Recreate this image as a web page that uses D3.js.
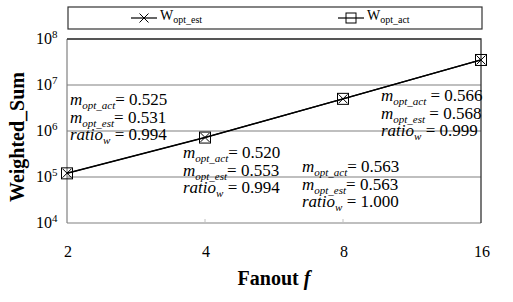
<!DOCTYPE html>
<html>
<head>
<meta charset="utf-8">
<script src="https://d3js.org/d3.v7.min.js"></script>
<style>
  body { margin: 0; background: #fff; }
  svg text { font-family: 'Liberation Serif', 'DejaVu Serif', 'Times New Roman', Times, serif; fill: #000; }
</style>
</head>
<body>
<div id="chart"></div>
<script>
// values
var fanout = [2, 4, 8, 16];
var wOptEst = [1.21e5, 7.25e5, 5.0e6, 3.5e7];
var wOptAct = [1.2e5, 7.2e5, 5.0e6, 3.5e7];
var yTicks = [1e4, 1e5, 1e6, 1e7, 1e8];

// annotation numbers
var mOptAct = ['0.525', '0.520', '0.563', '0.566'];
var mOptEst = ['0.531', '0.553', '0.563', '0.568'];
var ratioW = ['0.994', '0.994', '1.000', '0.999'];

var width = 513, height = 302;
var margin = {top: 39, right: 32, bottom: 79, left: 67};
var serif = "'Liberation Serif', 'DejaVu Serif', serif";

var svg = d3.select('#chart')
    .append('svg')
    .attr('width', width)
    .attr('height', height)
    .attr('font-family', serif);

svg.append('rect').attr('width', width).attr('height', height).attr('fill', '#fff');

var x = d3.scaleLog().base(2).domain([2, 16]).range([margin.left, width - margin.right]);
var y = d3.scaleLog().domain([1e4, 1e8]).range([height - margin.bottom, margin.top]);

// gridlines
svg.append('g')
    .selectAll('line')
    .data(yTicks)
    .enter().append('line')
    .attr('x1', x(2)).attr('x2', x(16))
    .attr('y1', function (d) { return y(d); })
    .attr('y2', function (d) { return y(d); })
    .attr('stroke', '#808080')
    .attr('stroke-width', 1.2);

// left axis
svg.append('line')
    .attr('x1', x(2)).attr('x2', x(2))
    .attr('y1', y(1e4)).attr('y2', y(1e8))
    .attr('stroke', '#808080').attr('stroke-width', 1.2);

// small inner ticks on bottom
svg.append('g')
    .selectAll('line')
    .data(fanout.slice(1, 3))
    .enter().append('line')
    .attr('x1', function (d) { return x(d); })
    .attr('x2', function (d) { return x(d); })
    .attr('y1', y(1e4)).attr('y2', y(1e4) - 4)
    .attr('stroke', '#c0c0c0');

// top / right frame
svg.append('path')
    .attr('d', 'M' + x(2) + ',' + y(1e8) + 'H' + x(16) + 'V' + y(1e4))
    .attr('fill', 'none')
    .attr('stroke', '#333')
    .attr('stroke-width', 1.3);

// y tick labels
var yl = svg.append('g')
    .selectAll('text')
    .data(yTicks)
    .enter().append('text')
    .attr('x', x(2) - 31)
    .attr('y', function (d) { return y(d) + 5; })
    .attr('font-size', 16);
yl.append('tspan').text('10');
yl.append('tspan')
    .attr('dy', -6)
    .attr('font-size', 11)
    .text(function (d) { return Math.round(Math.log10(d)); });

// x tick labels
svg.append('g')
    .selectAll('text')
    .data(fanout)
    .enter().append('text')
    .attr('x', function (d) { return x(d) + 1; })
    .attr('y', 257)
    .attr('text-anchor', 'middle')
    .attr('font-size', 16)
    .text(function (d) { return d; });

// axis titles
svg.append('text')
    .attr('transform', 'translate(24,' + 137 + ') rotate(-90)')
    .attr('text-anchor', 'middle')
    .attr('font-size', 20)
    .attr('font-weight', 'bold')
    .text('Weighted_Sum');

var xt = svg.append('text')
    .attr('x', 274)
    .attr('y', 285)
    .attr('text-anchor', 'middle')
    .attr('font-size', 20)
    .attr('font-weight', 'bold');
xt.append('tspan').text('Fanout ');
xt.append('tspan').attr('font-style', 'italic').text('f');

// series line (both series overlap)
var line = d3.line()
    .x(function (d) { return x(d[0]); })
    .y(function (d) { return y(d[1]); });

function markerX(g, cx, cy, s) {
    g.append('path')
        .attr('d', 'M' + (cx - s) + ',' + (cy - s) + 'L' + (cx + s) + ',' + (cy + s) +
            'M' + (cx - s) + ',' + (cy + s) + 'L' + (cx + s) + ',' + (cy - s))
        .attr('stroke', '#000').attr('stroke-width', 1).attr('fill', 'none');
}
function markerSq(g, cx, cy, s) {
    g.append('rect')
        .attr('x', cx - s).attr('y', cy - s)
        .attr('width', 2 * s).attr('height', 2 * s)
        .attr('stroke', '#000').attr('stroke-width', 1).attr('fill', 'none');
}

var estPts = fanout.map(function (f, i) { return [f, wOptEst[i]]; });
var actPts = fanout.map(function (f, i) { return [f, wOptAct[i]]; });

svg.append('path').datum(estPts).attr('d', line)
    .attr('fill', 'none').attr('stroke', '#000').attr('stroke-width', 1.3);
svg.append('path').datum(actPts).attr('d', line)
    .attr('fill', 'none').attr('stroke', '#000').attr('stroke-width', 1.3);

var mk = svg.append('g');
estPts.forEach(function (p) { markerX(mk, x(p[0]), y(p[1]), 4.5); });
actPts.forEach(function (p) { markerSq(mk, x(p[0]), y(p[1]), 5.5); });

// annotations
var annLayout = [
    {dx: 3, y0: 105},
    {dx: -22, y0: 158},
    {dx: -41, y0: 172},
    {dx: -100, y0: 101}
];
var annGap = 17.5;

fanout.forEach(function (f, i) {
    var ax = x(f) + annLayout[i].dx;
    var rows = [
        ['m', 'opt_act', '= ' + mOptAct[i]],
        ['m', 'opt_est', '= ' + mOptEst[i]],
        ['ratio', 'w', ' = ' + ratioW[i]]
    ];
    if (i === 3) {
        rows[0][2] = ' = ' + mOptAct[i];
        rows[1][2] = ' = ' + mOptEst[i];
    }
    rows.forEach(function (r, j) {
        var t = svg.append('text')
            .attr('x', ax)
            .attr('y', annLayout[i].y0 + j * annGap)
            .attr('font-size', 17);
        t.append('tspan').attr('font-style', 'italic').text(r[0]);
        t.append('tspan').attr('font-style', 'italic').attr('font-size', 11).attr('dy', 4).text(r[1]);
        t.append('tspan').attr('dy', -4).text(r[2]);
    });
});

// legend
var lg = svg.append('g');
lg.append('rect')
    .attr('x', 68).attr('y', 7)
    .attr('width', 414).attr('height', 22)
    .attr('fill', '#fff').attr('stroke', '#333').attr('stroke-width', 1.2);

var legendItems = [
    {name: 'opt_est', lx: 131, marker: markerX, s: 4.5},
    {name: 'opt_act', lx: 338, marker: markerSq, s: 5}
];
legendItems.forEach(function (d) {
    lg.append('line')
        .attr('x1', d.lx).attr('x2', d.lx + 26)
        .attr('y1', 18).attr('y2', 18)
        .attr('stroke', '#000').attr('stroke-width', 1.2);
    d.marker(lg, d.lx + 13, 18, d.s);
    var t = lg.append('text')
        .attr('x', d.lx + 29)
        .attr('y', 20)
        .attr('font-size', 14);
    t.append('tspan').text('W');
    t.append('tspan').attr('font-size', 10).attr('dy', 3).text(d.name);
});
</script>
</body>
</html>
